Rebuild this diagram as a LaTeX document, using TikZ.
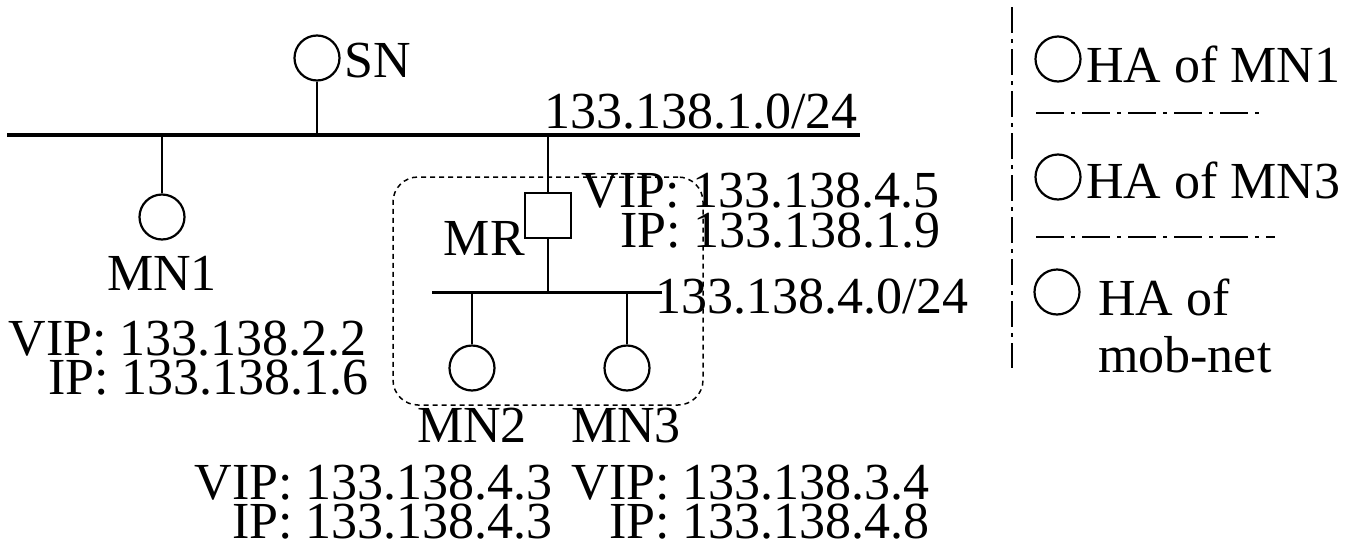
\documentclass[tikz,border=0pt]{standalone}
\usepackage{fontspec}
\setmainfont{Liberation Serif}
\begin{document}
\begin{tikzpicture}[x=1pt,y=-1pt,
  host/.style={circle,draw,line width=2.2pt,minimum size=45pt,inner sep=0pt},
  router/.style={rectangle,draw,line width=2.5pt,minimum width=46pt,minimum height=45pt,inner sep=0pt},
  link/.style={line width=2.5pt},
  busline/.style={line width=4pt},
  subbus/.style={line width=3pt},
  lbl/.style={inner sep=0pt,font=\fontsize{52}{52}\selectfont},
  mobbox/.style={draw,line width=1.5pt,dash pattern=on 5pt off 4pt,rounded corners=25pt,minimum width=310pt,minimum height=228pt,inner sep=0pt},
  sepline/.style={line width=1.5pt,dash pattern=on 28pt off 7pt on 4pt off 7pt},
  vsep/.style={line width=1.5pt,dash pattern=on 26pt off 6pt on 4pt off 6pt}
]
\useasboundingbox (0,0) rectangle (1361,544);

% main bus
\coordinate (busL) at (7,135);
\coordinate (busR) at (860,135);
\draw[busline] (busL) -- (busR);
\node[lbl,anchor=base east] (net1) at (858,128) {133.138.1.0/24};

% SN
\node[host] (SN) at (317,58) {};
\coordinate (snj) at (317,135);
\draw[link] (SN) -- (snj);
\node[lbl,anchor=base west] (snlbl) at (344,77) {SN};

% MN1
\node[host] (MN1) at (162,217) {};
\coordinate (mn1j) at (162,135);
\draw[link] (mn1j) -- (MN1);
\node[lbl,anchor=base] (mn1lbl) at (162,290) {MN1};
\node[lbl,anchor=base east] (mn1vip) at (367,355) {VIP: 133.138.2.2};
\node[lbl,anchor=base east] (mn1ip) at (369,394) {IP: 133.138.1.6};

% mobile network box
\node[mobbox] (mobnet) at (548,291) {};

% MR
\node[router] (MR) at (548,215.5) {};
\coordinate (mrj) at (548,135);
\draw[link] (mrj) -- (MR);
\node[lbl,anchor=base east] (mrlbl) at (525,255) {MR};
\node[lbl,anchor=base east] (mrvip) at (940,207) {VIP: 133.138.4.5};
\node[lbl,anchor=base east] (mrip) at (941,247) {IP: 133.138.1.9};

% sub bus
\coordinate (sbL) at (432,292);
\coordinate (sbR) at (662,292);
\coordinate (mrsj) at (548,292);
\draw[subbus] (sbL) -- (sbR);
\draw[link] (MR) -- (mrsj);
\node[lbl,anchor=base west] (net4) at (655,313) {133.138.4.0/24};

% MN2, MN3
\node[host] (MN2) at (472,368) {};
\node[host] (MN3) at (627,368) {};
\coordinate (mn2j) at (472,292);
\coordinate (mn3j) at (627,292);
\draw[link] (mn2j) -- (MN2);
\draw[link] (mn3j) -- (MN3);
\node[lbl,anchor=base] (mn2lbl) at (472,442) {MN2};
\node[lbl,anchor=base] (mn3lbl) at (626,442) {MN3};
\node[lbl,anchor=base east] (mn2vip) at (553,499) {VIP: 133.138.4.3};
\node[lbl,anchor=base east] (mn2ip) at (553,538) {IP: 133.138.4.3};
\node[lbl,anchor=base east] (mn3vip) at (930,499) {VIP: 133.138.3.4};
\node[lbl,anchor=base east] (mn3ip) at (930,538) {IP: 133.138.4.8};

% legend
\coordinate (vsT) at (1012,7);
\coordinate (vsB) at (1012,368);
\draw[vsep] (vsT) -- (vsB);
\node[host] (ha1) at (1058,59) {};
\node[lbl,anchor=base west] (ha1lbl) at (1086,82) {HA of MN1};
\coordinate (s1L) at (1036,113);
\coordinate (s1R) at (1263,113);
\draw[sepline] (s1L) -- (s1R);
\node[host] (ha3) at (1058,177) {};
\node[lbl,anchor=base west] (ha3lbl) at (1086,198) {HA of MN3};
\coordinate (s2L) at (1036,237);
\coordinate (s2R) at (1275,237);
\draw[sepline] (s2L) -- (s2R);
\node[host] (hamn) at (1057,292) {};
\node[lbl,anchor=base west] (hamnlbl1) at (1098,315) {HA of};
\node[lbl,anchor=base west] (hamnlbl2) at (1098,372) {mob-net};
\end{tikzpicture}
\end{document}
